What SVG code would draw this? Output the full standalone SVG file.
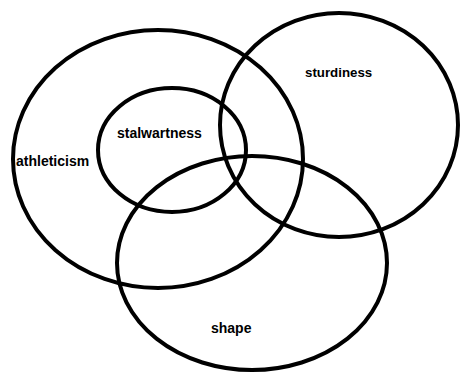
<svg xmlns="http://www.w3.org/2000/svg" width="460" height="373" viewBox="0 0 460 373">
<style>
.c{fill:none;stroke:#000;stroke-width:4}
.t{font-family:"Liberation Sans",Arial,sans-serif;font-weight:bold;font-size:14px;fill:#000}
</style>
<rect width="460" height="373" fill="#fff"/>
<g id="athleticism"><ellipse class="c" cx="158" cy="159" rx="145" ry="129"/><text class="t" x="16" y="166">athleticism</text></g>
<g id="stalwartness"><ellipse class="c" cx="172" cy="150" rx="74" ry="62"/><text class="t" x="117" y="138">stalwartness</text></g>
<g id="sturdiness"><ellipse class="c" cx="339" cy="125" rx="119" ry="112"/><text class="t" x="305" y="77" style="font-size:13.3px">sturdiness</text></g>
<g id="shape"><ellipse class="c" cx="252" cy="263" rx="135" ry="107"/><text class="t" x="211" y="333">shape</text></g>
<g id="connectors"></g>
</svg>
